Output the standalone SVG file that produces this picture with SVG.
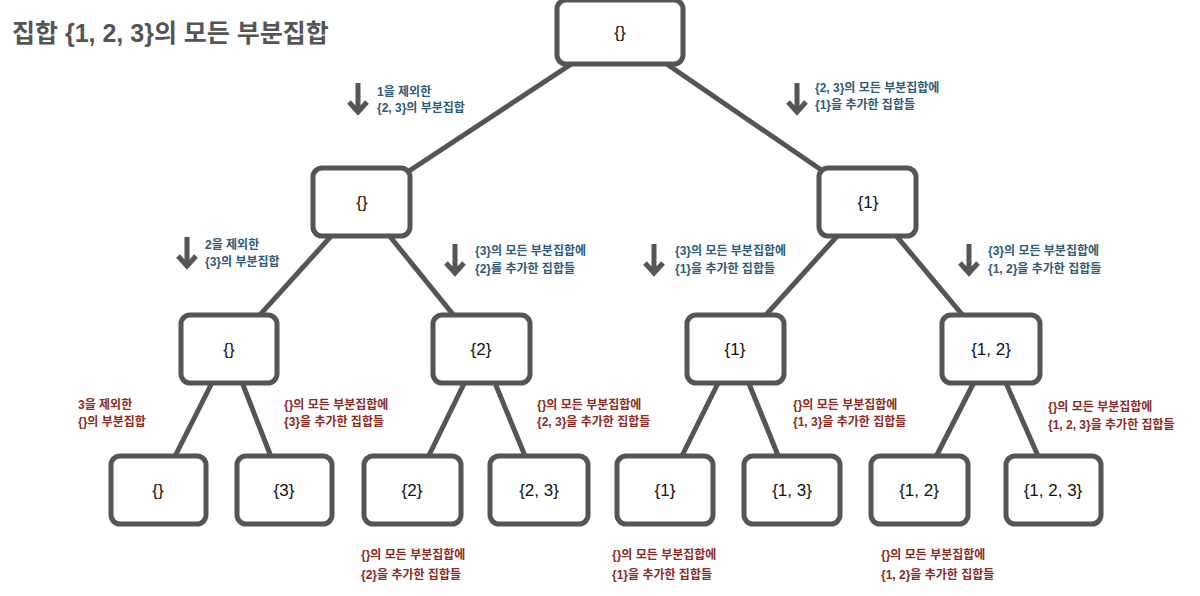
<svg xmlns="http://www.w3.org/2000/svg" width="1200" height="596" viewBox="0 0 1200 596">
<defs>
<style>
.node rect{fill:#fff;stroke:#555;stroke-width:5}
.node text{font-family:"Liberation Sans","Noto Sans CJK KR",sans-serif;font-size:17px;fill:#111;text-anchor:middle}
.edge{stroke:#555;stroke-width:5;stroke-linecap:round}
.lb{font-family:"Liberation Sans","Noto Sans CJK KR",sans-serif;font-size:12px;font-weight:bold;fill:#2e5a78}
.lr{font-family:"Liberation Sans","Noto Sans CJK KR",sans-serif;font-size:12px;font-weight:bold;fill:#8a2b1f}
.title{font-family:"Liberation Sans","Noto Sans CJK KR",sans-serif;font-size:25px;font-weight:bold;fill:#555}
.arr{fill:none;stroke:#555;stroke-width:5}
</style>
<g id="down-arrow">
<path class="arr" d="M0,0 V30 M-9,19 L0,29 L9,19"/>
</g>
</defs>
<rect width="1200" height="596" fill="#fff"/>
<text class="title" x="12" y="42">집합 {1, 2, 3}의 모든 부분집합</text>

<g id="connectors">
<line class="edge" x1="620" y1="32" x2="362" y2="202"/>
<line class="edge" x1="620" y1="32" x2="868" y2="202"/>
<line class="edge" x1="362" y1="202" x2="229" y2="349"/>
<line class="edge" x1="362" y1="202" x2="481" y2="349"/>
<line class="edge" x1="868" y1="202" x2="735" y2="349"/>
<line class="edge" x1="868" y1="202" x2="991" y2="349"/>
<line class="edge" x1="229" y1="349" x2="158" y2="490"/>
<line class="edge" x1="229" y1="349" x2="284" y2="490"/>
<line class="edge" x1="481" y1="349" x2="412" y2="490"/>
<line class="edge" x1="481" y1="349" x2="539" y2="490"/>
<line class="edge" x1="735" y1="349" x2="665" y2="490"/>
<line class="edge" x1="735" y1="349" x2="792" y2="490"/>
<line class="edge" x1="991" y1="349" x2="919" y2="490"/>
<line class="edge" x1="991" y1="349" x2="1053" y2="490"/>
</g>

<g id="n-root" class="node"><rect x="557" y="0" width="126" height="64" rx="9"/><text x="620" y="38">{}</text></g>
<g id="n-l1a" class="node"><rect x="313" y="168" width="97" height="68" rx="9"/><text x="362" y="208">{}</text></g>
<g id="n-l1b" class="node"><rect x="819" y="168" width="97" height="68" rx="9"/><text x="868" y="208">{1}</text></g>
<g id="n-l2a" class="node"><rect x="181" y="315" width="96" height="68" rx="9"/><text x="229" y="355">{}</text></g>
<g id="n-l2b" class="node"><rect x="433" y="315" width="97" height="68" rx="9"/><text x="481" y="355">{2}</text></g>
<g id="n-l2c" class="node"><rect x="687" y="315" width="97" height="68" rx="9"/><text x="735" y="355">{1}</text></g>
<g id="n-l2d" class="node"><rect x="942" y="315" width="98" height="68" rx="9"/><text x="991" y="355">{1, 2}</text></g>
<g id="n-l3a" class="node"><rect x="111" y="456" width="95" height="68" rx="9"/><text x="158" y="496">{}</text></g>
<g id="n-l3b" class="node"><rect x="237" y="456" width="95" height="68" rx="9"/><text x="284" y="496">{3}</text></g>
<g id="n-l3c" class="node"><rect x="364" y="456" width="97" height="68" rx="9"/><text x="412" y="496">{2}</text></g>
<g id="n-l3d" class="node"><rect x="490" y="456" width="98" height="68" rx="9"/><text x="539" y="496">{2, 3}</text></g>
<g id="n-l3e" class="node"><rect x="617" y="456" width="96" height="68" rx="9"/><text x="665" y="496">{1}</text></g>
<g id="n-l3f" class="node"><rect x="744" y="456" width="96" height="68" rx="9"/><text x="792" y="496">{1, 3}</text></g>
<g id="n-l3g" class="node"><rect x="871" y="456" width="97" height="68" rx="9"/><text x="919" y="496">{1, 2}</text></g>
<g id="n-l3h" class="node"><rect x="1006" y="456" width="95" height="68" rx="9"/><text x="1053" y="496">{1, 2, 3}</text></g>

<g id="labels">
<use href="#down-arrow" x="358" y="83"/>
<text class="lb" x="377" y="96">1을 제외한</text>
<text class="lb" x="377" y="112">{2, 3}의 부분집합</text>
<use href="#down-arrow" x="797" y="83"/>
<text class="lb" x="815" y="92">{2, 3}의 모든 부분집합에</text>
<text class="lb" x="815" y="109">{1}을 추가한 집합들</text>

<use href="#down-arrow" x="187" y="237"/>
<text class="lb" x="205" y="249">2을 제외한</text>
<text class="lb" x="205" y="266">{3}의 부분집합</text>
<use href="#down-arrow" x="455" y="244"/>
<text class="lb" x="475" y="255">{3}의 모든 부분집합에</text>
<text class="lb" x="475" y="273">{2}를 추가한 집합들</text>
<use href="#down-arrow" x="654" y="244"/>
<text class="lb" x="675" y="255">{3}의 모든 부분집합에</text>
<text class="lb" x="675" y="273">{1}을 추가한 집합들</text>
<use href="#down-arrow" x="969" y="244"/>
<text class="lb" x="988" y="255">{3}의 모든 부분집합에</text>
<text class="lb" x="988" y="273">{1, 2}을 추가한 집합들</text>

<text class="lr" x="78" y="409">3을 제외한</text>
<text class="lr" x="78" y="426">{}의 부분집합</text>
<text class="lr" x="284" y="409">{}의 모든 부분집합에</text>
<text class="lr" x="284" y="426">{3}을 추가한 집합들</text>
<text class="lr" x="537" y="409">{}의 모든 부분집합에</text>
<text class="lr" x="537" y="426">{2, 3}을 추가한 집합들</text>
<text class="lr" x="793" y="409">{}의 모든 부분집합에</text>
<text class="lr" x="793" y="426">{1, 3}을 추가한 집합들</text>
<text class="lr" x="1048" y="411">{}의 모든 부분집합에</text>
<text class="lr" x="1048" y="429">{1, 2, 3}을 추가한 집합들</text>

<text class="lr" x="361" y="559">{}의 모든 부분집합에</text>
<text class="lr" x="361" y="579">{2}을 추가한 집합들</text>
<text class="lr" x="612" y="559">{}의 모든 부분집합에</text>
<text class="lr" x="612" y="579">{1}을 추가한 집합들</text>
<text class="lr" x="881" y="559">{}의 모든 부분집합에</text>
<text class="lr" x="881" y="579">{1, 2}을 추가한 집합들</text>
</g>
</svg>
